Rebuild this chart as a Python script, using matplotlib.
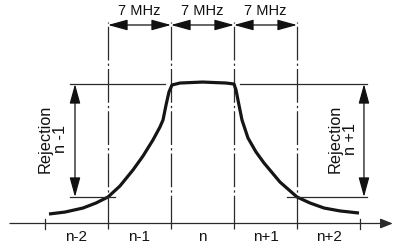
import matplotlib
matplotlib.use("Agg")
import matplotlib.pyplot as plt
from matplotlib.patches import FancyArrowPatch

plt.rcParams['font.family'] = ['Liberation Sans', 'DejaVu Sans']

# ---- data (channel units: 1 = one 7 MHz channel; level: 0 = axis, 1 = passband) ----
channel_labels = ['n-2', 'n-1', 'n', 'n+1', 'n+2']
channel_centers = [-2, -1, 0, 1, 2]
outer_ticks = [-2.5, 2.5]
boundaries = [-1.5, -0.5, 0.5, 1.5]
spacing_label = '7 MHz'
spans = [(-1.5, -0.5), (-0.5, 0.5), (0.5, 1.5)]

curve_x = [-2.437, -2.183, -1.897, -1.690, -1.5, -1.310, -1.103, -0.944, -0.786,
           -0.675, -0.627, -0.579, -0.532, -0.484, -0.357, 0.0, 0.373, 0.5,
           0.532, 0.579, 0.627, 0.722, 0.849, 0.976, 1.230, 1.5, 1.706, 1.929,
           2.183, 2.484]
curve_y = [0.068, 0.082, 0.111, 0.147, 0.190, 0.269, 0.384, 0.484, 0.599,
           0.692, 0.742, 0.849, 0.943, 0.993, 1.007, 1.014, 1.007, 1.0,
           0.957, 0.849, 0.742, 0.613, 0.513, 0.434, 0.297, 0.190, 0.147, 0.111,
           0.090, 0.075]

pass_level = 1.0
reject_level = 0.190
rejection_labels = ['Rejection\nn -1', 'Rejection\nn +1']

# ---- figure ----
W, H, DPI = 397, 243, 100
fig = plt.figure(figsize=(W / DPI, H / DPI), dpi=DPI)
ax = fig.add_axes([0, 0, 1, 1])
ax.set_xlim(-202.5 / 63, (W - 202.5) / 63)
ax.set_ylim((223.5 - H) / 139.5, 223.5 / 139.5)
ax.axis('off')

lc = '#2a2a2a'

# x axis with arrow
ax.add_patch(FancyArrowPatch((-3.056, 0), (3.02, 0), arrowstyle='-|>,head_length=0.75,head_width=0.3',
                             mutation_scale=10, color=lc, lw=0.9, shrinkA=0, shrinkB=0))
for t in outer_ticks:
    ax.plot([t, t], [-0.039, 0.032], color=lc, lw=0.9)

# dash-dot channel boundaries
for b in boundaries:
    ax.plot([b, b], [-0.039, 1.444], color=lc, lw=0.9,
            linestyle=(0, (27, 2.5, 1.8, 2.5)))

# response curve
ax.plot(curve_x, curve_y, color='#151515', lw=2.3, solid_joinstyle='round',
        solid_capstyle='butt')

# reference horizontal lines
ax.plot([-2.103, -0.595], [pass_level, pass_level], color=lc, lw=0.9)
ax.plot([0.595, 2.611], [pass_level, pass_level], color=lc, lw=0.9)
ax.plot([-2.103, -1.389], [reject_level, reject_level], color=lc, lw=0.9)
ax.plot([1.341, 2.611], [reject_level, reject_level], color=lc, lw=0.9)

# rejection dimension arrows
arr_style = '<|-|>,head_length=1.2,head_width=0.33'
for xa in (-2.024, 2.563):
    ax.add_patch(FancyArrowPatch((xa, reject_level), (xa, pass_level), arrowstyle=arr_style,
                                 mutation_scale=10, color='#111111', lw=0.9,
                                 shrinkA=0, shrinkB=0))

# spacing dimension arrows
ya = 1.423
for (a, b) in spans:
    ax.add_patch(FancyArrowPatch((a, ya), (b, ya), arrowstyle=arr_style,
                                 mutation_scale=10, color='#111111', lw=0.9,
                                 shrinkA=0, shrinkB=0))
    ax.text((a + b) / 2, 1.52, spacing_label, ha='center', va='center',
            fontsize=10.5, color='#111111')

# rejection labels
for xl, lab in zip((-2.373, 2.23), rejection_labels):
    ax.text(xl, 0.606, lab, rotation=90, ha='center', va='center',
            multialignment='center', fontsize=11.7, color='#111111', linespacing=1.05)

# channel labels
for c, lab in zip(channel_centers, channel_labels):
    ax.text(c, -0.10, lab, ha='center', va='center', fontsize=11, color='#111111')

fig.savefig('out.png', dpi=DPI)
